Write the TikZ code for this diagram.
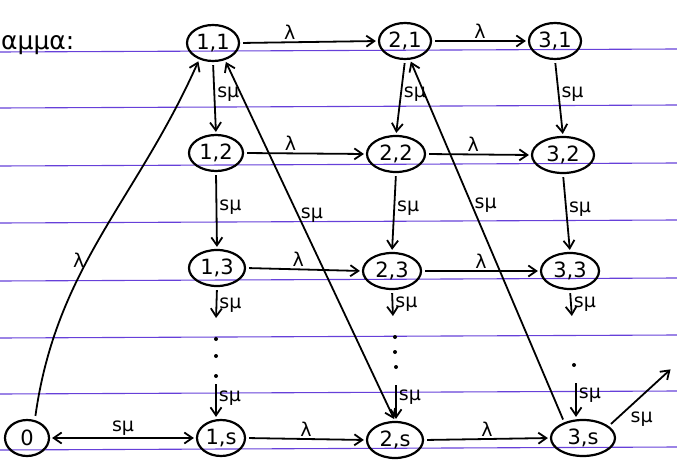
\documentclass[tikz,border=0pt]{standalone}
\usepackage{fontspec}
\setmainfont{DejaVu Sans}
\usetikzlibrary{shapes.geometric,arrows.meta}
\begin{document}
\begin{tikzpicture}[x=1pt,y=-1pt,
  st/.style={ellipse,draw,line width=2.2pt,minimum width=52pt,minimum height=36pt,inner sep=0.5pt,font=\fontsize{21}{24}\selectfont},
  arr/.style={-{Straight Barb[length=8pt,width=11pt]},line width=1.8pt,shorten <=3pt,shorten >=2pt},
  darr/.style={{Straight Barb[length=8pt,width=11pt]}-{Straight Barb[length=8pt,width=11pt]},line width=1.8pt,shorten <=2pt,shorten >=2pt},
  lab/.style={font=\fontsize{19}{22}\selectfont,inner sep=2pt},
  dotn/.style={circle,fill,inner sep=0pt,minimum size=4pt},
  ruled/.style={draw=blue!60!violet!75,line width=1.1pt}]
\useasboundingbox (0,0) rectangle (677,468);
\foreach \y in {52,108,166,223,281,338,394,450} \draw[ruled] (0,\y) -- (677,\y-3);

\node[anchor=west,font=\fontsize{25}{28}\selectfont,inner sep=0pt] (title) at (1,45) {αμμα:};

\node[st,minimum width=44pt] (n0) at (27,438) {0};
\node[st] (n11) at (213,43) {1,1};
\node[st] (n21) at (405,41) {2,1};
\node[st] (n31) at (555,41) {3,1};
\node[st,minimum width=54pt] (n12) at (216,153) {1,2};
\node[st,minimum width=58pt] (n22) at (396,154) {2,2};
\node[st,minimum width=62pt] (n32) at (563,155) {3,2};
\node[st,minimum width=56pt] (n13) at (217,268) {1,3};
\node[st,minimum width=58pt] (n23) at (392,271) {2,3};
\node[st,minimum width=58pt] (n33) at (570,271) {3,3};
\node[st,minimum width=48pt] (n1s) at (221,438) {1,s};
\node[st,minimum width=56pt] (n2s) at (395,440) {2,s};
\node[st,minimum width=64pt] (n3s) at (583,438) {3,s};

% horizontal lambda arrows
\draw[arr] (n11.east) -- node[lab,above,pos=0.36]{λ} (n21.west);
\draw[arr] (n21.east) -- node[lab,above,pos=0.5]{λ} (n31.west);
\draw[arr] (n12.east) -- node[lab,above,pos=0.38]{λ} (n22.west);
\draw[arr] (n22.east) -- node[lab,above,pos=0.45]{λ} (n32.west);
\draw[arr] (n13.east) -- node[lab,above,pos=0.45]{λ} (n23.west);
\draw[arr] (n23.east) -- node[lab,above,pos=0.5]{λ} (n33.west);
\draw[arr] (n1s.east) -- node[lab,above,pos=0.5]{λ} (n2s.west);
\draw[arr] (n2s.east) -- node[lab,above,pos=0.5]{λ} (n3s.west);

% vertical s mu arrows
\draw[arr] (n11.south) -- node[lab,right,pos=0.45]{sμ} (n12.north);
\draw[arr] (n21.south) -- node[lab,right,pos=0.45]{sμ} (n22.north);
\draw[arr] (n31.south) -- node[lab,right,pos=0.45]{sμ} (n32.north);
\draw[arr] (n12.south) -- node[lab,right,pos=0.45]{sμ} (n13.north);
\draw[arr] (n22.south) -- node[lab,right,pos=0.45]{sμ} (n23.north);
\draw[arr] (n32.south) -- node[lab,right,pos=0.45]{sμ} (n33.north);

% column 1 chain
\coordinate (c1b) at (216,320);
\coordinate (c1c) at (216,381);
\draw[arr] (n13.south) -- node[lab,right,pos=0.55]{sμ} (c1b);
\node[dotn] (d11) at (216,339) {};
\node[dotn] (d12) at (216,356) {};
\node[dotn] (d13) at (216,376) {};
\draw[arr] (c1c) -- node[lab,right,pos=0.45]{sμ} (c1c |- n1s.north);

% column 2 chain
\coordinate (c2b) at (393,318);
\coordinate (c2c) at (396,382);
\draw[arr] (n23.south) -- node[lab,right,pos=0.5]{sμ} (c2b);
\node[dotn] (d21) at (395,337) {};
\node[dotn] (d22) at (395,352) {};
\node[dotn] (d23) at (396,367) {};
\draw[arr] (c2c) -- node[lab,right,pos=0.4]{sμ} (c2c |- n2s.north);

% column 3 chain
\coordinate (c3b) at (572,318);
\coordinate (c3c) at (576,380);
\draw[arr] (n33.south) -- node[lab,right,pos=0.5]{sμ} (c3b);
\node[dotn] (d31) at (574,365) {};
\draw[arr] (c3c) -- node[lab,right,pos=0.4]{sμ} (c3c |- n3s.north);

% 0 <-> 1,s
\draw[darr] (n1s.west) -- node[lab,above]{sμ} (n0.east);

% 0 -> 1,1
\draw[arr] ([xshift=8pt]n0.north) to[out=82,in=-114] node[lab,left,pos=0.42]{λ} (n11.-130);

% diagonals
\draw[darr] (n2s.north) -- node[lab,right,pos=0.57]{sμ} (n11.-55);
\draw[arr] (n3s.140) -- node[lab,right,pos=0.6]{sμ} (n21.-75);

% 3,s -> outward
\coordinate (out) at (672,368);
\draw[arr] (n3s.25) -- node[lab,anchor=north west,pos=0.3]{sμ} (out);
\end{tikzpicture}
\end{document}
